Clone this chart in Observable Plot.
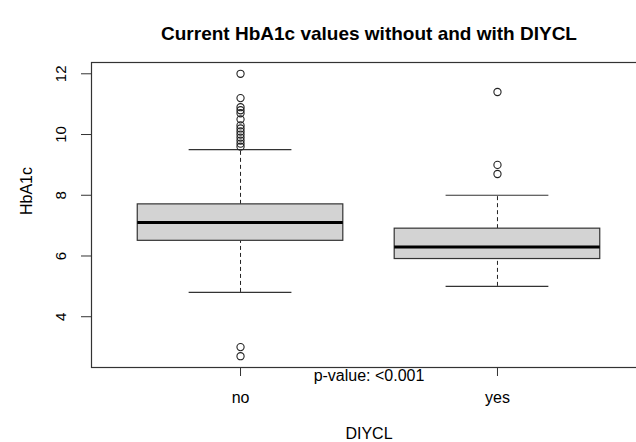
<!DOCTYPE html>
<html>
<head>
<meta charset="utf-8">
<script src="https://cdn.jsdelivr.net/npm/d3@7"></script>
<script src="https://cdn.jsdelivr.net/npm/@observablehq/plot@0.6"></script>
<style>
  html, body { margin: 0; padding: 0; background: #fff; }
</style>
</head>
<body>
<div id="chart"></div>
<script>
const groups = ["no", "yes"];
const whiskerLow = [4.8, 5.0];
const q1 = [6.5, 5.9];
const median = [7.1, 6.3];
const q3 = [7.7, 6.9];
const whiskerHigh = [9.5, 8.0];
const outliersNo = [12.0, 11.2, 10.9, 10.8, 10.7, 10.5, 10.3, 10.2, 10.1, 10.0, 9.9, 9.8, 9.7, 9.6, 3.0, 2.7];
const outliersYes = [11.4, 9.0, 8.7];
const yTicks = [4, 6, 8, 10, 12];

const boxes = groups.map((g, i) => ({
  g, pos: i + 1, lo: whiskerLow[i], q1: q1[i], med: median[i], q3: q3[i], hi: whiskerHigh[i]
}));
const outliers = [
  ...outliersNo.map(v => ({pos: 1, v})),
  ...outliersYes.map(v => ({pos: 2, v}))
];

const allVals = [...outliersNo, ...outliersYes, ...whiskerLow, ...whiskerHigh];
const vmin = d3.min(allVals), vmax = d3.max(allVals);
const ext = (vmax - vmin) * 0.04;

const lineColor = "#333";
const chart = Plot.plot({
  width: 636,
  height: 442,
  marginLeft: 91,
  marginRight: -10,
  marginTop: 62,
  marginBottom: 75,
  style: {fontFamily: "'Liberation Sans', Arial, sans-serif", fontSize: "16px", color: "#000", background: "#fff"},
  x: {type: "linear", domain: [0.42, 2.58]},
  y: {domain: [vmin - ext, vmax + ext]},
  marks: [
    // whiskers (dashed)
    Plot.ruleX(boxes, {x: "pos", y1: "lo", y2: "q1", stroke: "#222", strokeDasharray: "4,3", strokeWidth: 1}),
    Plot.ruleX(boxes, {x: "pos", y1: "q3", y2: "hi", stroke: "#222", strokeDasharray: "4,3", strokeWidth: 1}),
    // whisker caps
    Plot.ruleY(boxes, {y: "lo", x1: d => d.pos - 0.2, x2: d => d.pos + 0.2, stroke: lineColor, strokeWidth: 1.2}),
    Plot.ruleY(boxes, {y: "hi", x1: d => d.pos - 0.2, x2: d => d.pos + 0.2, stroke: lineColor, strokeWidth: 1.2}),
    // boxes
    Plot.rect(boxes, {x1: d => d.pos - 0.4, x2: d => d.pos + 0.4, y1: "q1", y2: "q3", fill: "#d3d3d3", stroke: lineColor, strokeWidth: 1.2}),
    // medians
    Plot.ruleY(boxes, {y: "med", x1: d => d.pos - 0.4, x2: d => d.pos + 0.4, stroke: "#000", strokeWidth: 3}),
    // outliers
    Plot.dot(outliers, {x: "pos", y: "v", r: 3.6, stroke: "#222", fill: "none", strokeWidth: 1.1}),
    Plot.frame({stroke: lineColor, strokeWidth: 1.2}),
    Plot.axisY({ticks: yTicks, tickSize: 10, tickPadding: 16, tickRotate: -90, fontSize: 15, label: null, stroke: lineColor}),
    Plot.axisX({ticks: [1, 2], tickFormat: d => groups[d - 1], tickSize: 9, tickPadding: 15, fontSize: 16, label: null, stroke: lineColor}),
    // axis titles
    Plot.text(["HbA1c"], {frameAnchor: "left", dx: -65, rotate: -90, fontSize: 16}),
    Plot.text(["DIYCL"], {x: 1.5, frameAnchor: "bottom", dy: 71, fontSize: 16}),
    Plot.text(["p-value: <0.001"], {x: 1.5, frameAnchor: "bottom", dy: 13, fontSize: 16}),
    Plot.text(["Current HbA1c values without and with DIYCL"], {x: 1.5, frameAnchor: "top", dy: -36, fontSize: 19, fontWeight: "bold"})
  ]
});
document.getElementById("chart").appendChild(chart);
</script>
</body>
</html>
